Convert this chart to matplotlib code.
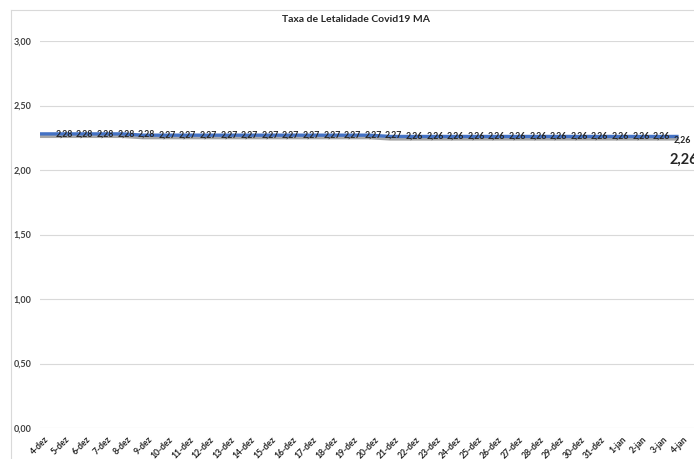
import numpy as np
import matplotlib; matplotlib.use("Agg")
import matplotlib.pyplot as plt
import matplotlib.patheffects as pe
from matplotlib.lines import Line2D

plt.rcParams["font.family"] = ["Lato", "DejaVu Sans"]

TITLE = "Taxa de Letalidade Covid19 MA"
dias = ["4-dez", "5-dez", "6-dez", "7-dez", "8-dez", "9-dez", "10-dez", "11-dez",
        "12-dez", "13-dez", "14-dez", "15-dez", "16-dez", "17-dez", "18-dez", "19-dez",
        "20-dez", "21-dez", "22-dez", "23-dez", "24-dez", "25-dez", "26-dez", "27-dez",
        "28-dez", "29-dez", "30-dez", "31-dez", "1-jan", "2-jan", "3-jan", "4-jan"]
taxa = [2.28] * 5 + [2.27] * 12 + [2.26] * 15
yticks = [0, 0.5, 1.0, 1.5, 2.0, 2.5, 3.0]

W, H = 694, 459
fig = plt.figure(figsize=(W / 100, H / 100), dpi=100)
ax = fig.add_axes([40 / W, 31 / H, (W - 40) / W, 387 / H])
x = np.arange(len(taxa))

ax.plot(x, taxa, color="#4472C4", lw=2.4, solid_capstyle="butt",
        path_effects=[pe.SimpleLineShadow(offset=(0, -1.8), shadow_color="#808080", alpha=0.7),
                      pe.Normal()], zorder=3)

fmt = lambda v: f"{v:.2f}".replace(".", ",")
for i in range(len(taxa) - 1):
    dy = -4 if i == len(taxa) - 2 else 0
    ax.annotate(fmt(taxa[i]), (x[i], taxa[i]), xytext=(24, dy), textcoords="offset pixels",
                ha="center", va="center", fontsize=6.3, fontweight="bold", color="#262626", zorder=4)
ax.annotate(fmt(taxa[-1]), (x[-1], taxa[-1]), xytext=(-9, -23), textcoords="offset pixels",
            ha="left", va="center", fontsize=10.5, fontweight="bold", color="#262626", zorder=4)

ax.set_xlim(0, (W - 40) / 20.6)
ax.set_ylim(0, 3)
ax.set_yticks(yticks)
ax.set_yticklabels([fmt(v) for v in yticks], fontsize=6.5, fontweight="bold", color="#404040")
ax.set_xticks([])
for i, d in enumerate(dias):
    ax.annotate(d, (x[i], 0), xytext=(8, -10), textcoords="offset pixels", rotation=45,
                rotation_mode="anchor", ha="right", va="center", fontsize=6.2,
                fontweight="bold", color="#262626", annotation_clip=False)
ax.tick_params(length=0, axis="y", pad=6)
ax.grid(axis="y", color="#d9d9d9", lw=0.8)
ax.set_axisbelow(True)
for s in ax.spines.values():
    s.set_visible(False)

fig.text(356 / W, 1 - 20 / H, TITLE, ha="center", va="center", fontsize=7.5,
         fontweight="bold", color="#262626")
# chart area border (cropped)
fig.add_artist(Line2D([11 / W, 11 / W], [0, 1 - 10 / H], color="#d9d9d9", lw=0.8))
fig.add_artist(Line2D([11 / W, 1], [1 - 10 / H, 1 - 10 / H], color="#d9d9d9", lw=0.8))

fig.savefig("out.png", dpi=100, facecolor="white")
